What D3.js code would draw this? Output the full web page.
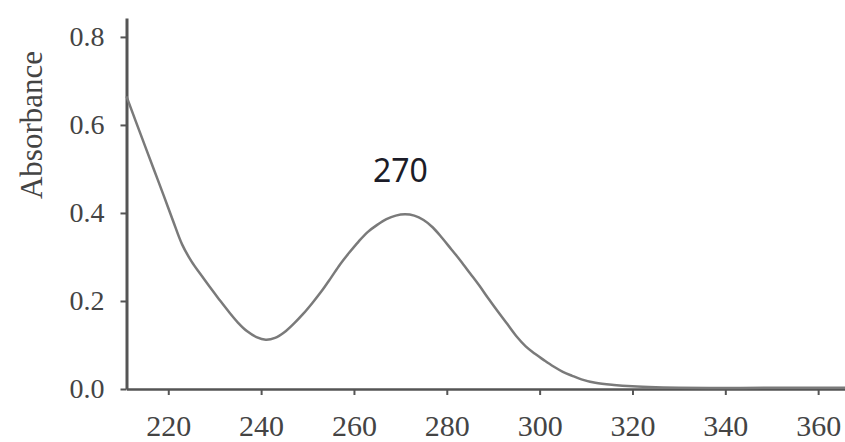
<!DOCTYPE html>
<html>
<head>
<meta charset="utf-8">
<script src="https://cdn.jsdelivr.net/npm/d3@7"></script>
<style>
  body { margin: 0; background: #fff; }
  svg { display: block; }
</style>
</head>
<body>
<svg width="845" height="442"></svg>
<script>
// Spectrum
var wavelength = [211, 213, 215, 217, 219, 221, 223, 225, 227, 229, 231, 233, 235, 237, 239, 241, 243, 245, 247, 249, 251, 253, 255, 257, 259, 261, 263, 265, 267, 269, 271, 273, 275, 277, 279, 281, 283, 285, 287, 289, 291, 293, 295, 297, 299, 301, 303, 305, 307, 309, 312, 316, 320, 325, 330, 340, 350, 366];
var absorbance = [0.665, 0.608, 0.552, 0.496, 0.44, 0.383, 0.328, 0.29, 0.26, 0.231, 0.203, 0.176, 0.151, 0.131, 0.118, 0.112, 0.116, 0.129, 0.148, 0.17, 0.195, 0.222, 0.252, 0.283, 0.31, 0.335, 0.357, 0.373, 0.386, 0.394, 0.397, 0.394, 0.384, 0.367, 0.343, 0.317, 0.291, 0.263, 0.235, 0.205, 0.176, 0.148, 0.12, 0.097, 0.08, 0.065, 0.051, 0.039, 0.03, 0.022, 0.014, 0.009, 0.006, 0.004, 0.003, 0.002, 0.003, 0.003];
var xTicks = [220, 240, 260, 280, 300, 320, 340, 360];
var yTicks = [0.0, 0.2, 0.4, 0.6, 0.8];
var peakLabel = "270";
var peakAt = 270;

var svg = d3.select("svg");

// Scales
var x = d3.scaleLinear().domain([211, 366]).range([126.5, 846]);
var y = d3.scaleLinear().domain([0, 0.843]).range([389, 18]);

var axisColor = "#555";
var textColor = "#444";
var serif = "'Liberation Serif', 'Times New Roman', serif";

// Y axis
var yAxis = svg.append("g")
    .attr("transform", "translate(126.5,0)")
    .call(d3.axisLeft(y).tickValues(yTicks).tickFormat(d3.format(".1f")).tickSize(6).tickSizeOuter(0).tickPadding(16));
yAxis.select(".domain").attr("stroke", axisColor).attr("stroke-width", 3);
yAxis.selectAll(".tick line").attr("stroke", axisColor).attr("stroke-width", 2);
yAxis.selectAll(".tick text")
    .attr("fill", textColor)
    .style("font-family", serif)
    .style("font-size", "28px");

// X axis
var xAxis = svg.append("g")
    .attr("transform", "translate(0,389)")
    .call(d3.axisBottom(x).tickValues(xTicks).tickSize(6).tickSizeOuter(0).tickPadding(0));
xAxis.select(".domain").attr("stroke", axisColor).attr("stroke-width", 2.5);
xAxis.selectAll(".tick line").attr("stroke", axisColor).attr("stroke-width", 2);
xAxis.selectAll(".tick text")
    .attr("y", 47)
    .attr("dy", null)
    .attr("fill", textColor)
    .style("font-family", serif)
    .style("font-size", "30px");

// Y label
svg.append("text")
    .attr("transform", "translate(42,125) rotate(-90)")
    .attr("text-anchor", "middle")
    .attr("fill", textColor)
    .style("font-family", serif)
    .style("font-size", "31px")
    .text("Absorbance");

// Curve
var line = d3.line()
    .x(function (d, i) { return x(wavelength[i]); })
    .y(function (d) { return y(d); })
    .curve(d3.curveCatmullRom.alpha(0.5));

svg.append("path")
    .datum(absorbance)
    .attr("fill", "none")
    .attr("stroke", "#7a7a7a")
    .attr("stroke-width", 2.5)
    .attr("d", line);

// Peak annotation
svg.append("text")
    .attr("x", x(peakAt))
    .attr("y", 182)
    .attr("text-anchor", "middle")
    .attr("fill", "#1c1c28")
    .style("font-family", "'Noto Sans', 'Open Sans', sans-serif")
    .style("font-size", "32px")
    .text(peakLabel);
</script>
</body>
</html>
